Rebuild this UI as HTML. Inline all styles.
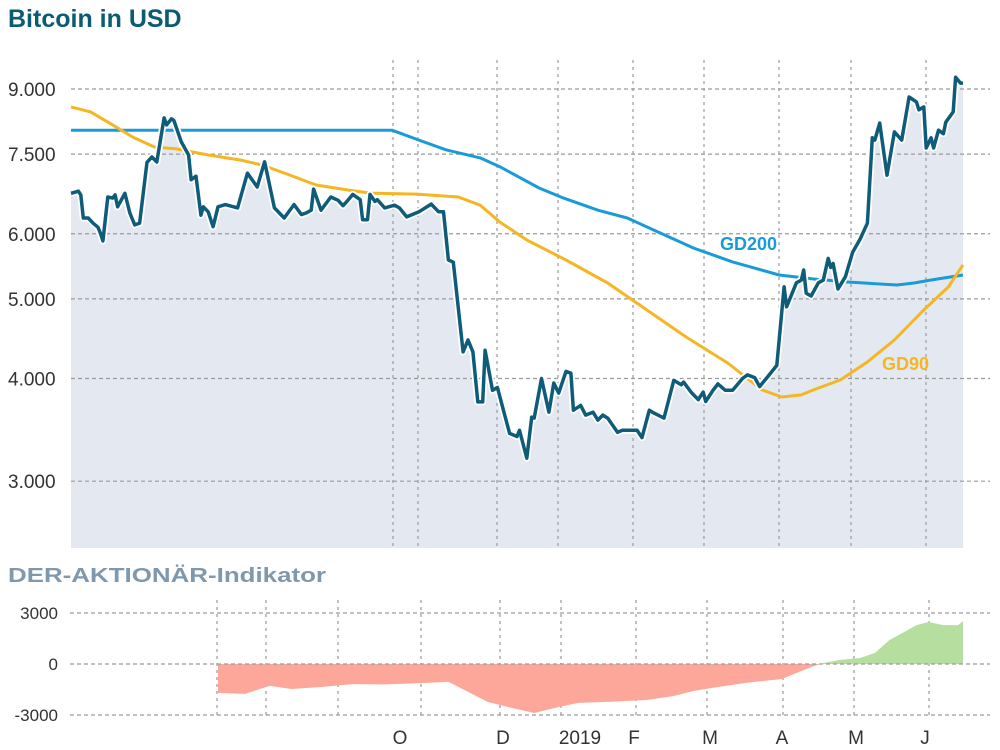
<!DOCTYPE html>
<html><head><meta charset="utf-8"><style>
html,body{margin:0;padding:0;background:#fff;}
svg{display:block;font-family:"Liberation Sans",sans-serif;}
</style></head><body>
<svg id="c" width="1000" height="750" viewBox="0 0 1000 750">
<text x="8" y="27" font-size="25" font-weight="bold" fill="#0b5b73">Bitcoin in USD</text>
<text x="8" y="582" font-size="20" font-weight="bold" fill="#7e98ad" textLength="318" lengthAdjust="spacingAndGlyphs">DER-AKTIONÄR-Indikator</text>
<g id="main"></g>
<g id="ind"></g>
</svg>
<script>
const priceDays=[0,3,4,5,7,9,11,12,13,15,17,18,19,22,24,26,28,31,33,35,38,39,41,42,45,48,49,51,53,54,56,58,60,63,68,72,76,79,83,87,91,94,96,98,99,102,106,109,111,113,115,118,119,121,122,124,125,128,132,134,137,142,147,150,152,154,156,160,162,164,166,168,169,172,174,179,182,183,186,188,189,192,195,197,199,202,204,205,208,210,213,215,217,219,223,225,228,231,233,236,238,242,246,249,250,253,256,258,259,262,264,267,270,274,276,279,281,284,288,291,292,296,298,299,300,302,305,307,309,310,311,313,316,319,322,325,327,328,330,333,336,339,342,345,346,348,349,351,352,354,356,357,360,361,363,364];
const priceValues=[6720,6760,6690,6270,6270,6180,6110,6010,5880,6650,6630,6690,6470,6720,6360,6150,6180,7330,7440,7335,8300,8140,8280,8240,7760,7480,6980,7050,6320,6470,6380,6120,6470,6510,6450,7110,6840,7340,6450,6270,6510,6330,6360,6410,6800,6410,6650,6590,6490,6590,6700,6600,6240,6240,6700,6570,6600,6450,6500,6450,6290,6380,6520,6380,6380,5575,5540,4310,4455,4310,3746,3746,4330,3870,3900,3430,3400,3460,3200,3590,3580,4000,3640,3950,3840,4080,4060,3660,3710,3610,3640,3560,3610,3580,3440,3460,3460,3460,3390,3660,3630,3580,3980,3930,3960,3850,3770,3850,3750,3870,3940,3870,3870,4000,4040,4010,3910,4010,4150,5170,4890,5230,5270,5420,5080,5040,5230,5270,5600,5460,5520,5140,5320,5700,5910,6180,7850,7800,8180,7070,7980,7800,8800,8680,8490,8560,7630,7850,7630,8020,7940,8200,8440,9300,9150,9150];
const gd200Days=[0,131,142,153,167,175,191,201,215,227,238,254,270,289,303,317,337,344,351,364];
const gd200Values=[8020,8020,7800,7590,7420,7240,6820,6630,6410,6270,6060,5765,5545,5345,5286,5242,5198,5227,5271,5345];
const gd90Days=[0,8,17,25,34,43,56,69,78,87,100,113,122,141,158,167,175,186,202,219,235,251,268,282,290,298,303,314,325,336,348,358,364];
const gd90Values=[8560,8440,8140,7870,7650,7610,7480,7376,7275,7113,6878,6782,6724,6705,6650,6500,6200,5896,5575,5227,4846,4493,4178,3874,3798,3820,3874,3984,4189,4455,4846,5168,5498];
const indDays=[60,71,81,90,102,115,128,144,154,170,180,189,199,207,220,235,246,254,264,275,290,296,302,307,314,322,328,334,340,345,350,356,362,364];
const indValues=[-1700,-1760,-1290,-1470,-1350,-1180,-1200,-1120,-1040,-2230,-2590,-2880,-2530,-2290,-2220,-2120,-1880,-1590,-1350,-1120,-880,-530,-180,60,240,350,650,1410,1880,2290,2470,2290,2290,2530];
const yTicks=[9000,7500,6000,5000,4000,3000];
const yTickLabels=["9.000","7.500","6.000","5.000","4.000","3.000"];
const indTicks=[3000,0,-3000];
const indTickLabels=["3000","0","-3000"];
const monthLabels=["O","D","2019","F","M","A","M","J"];

const NS="http://www.w3.org/2000/svg";
function mk(tag,attrs,parent){const e=document.createElementNS(NS,tag);for(const k in attrs)e.setAttribute(k,attrs[k]);parent.appendChild(e);return e;}
const X0=71,X1=963,D1=364;
const xs=d=>X0+(X1-X0)*d/D1;
const ys=v=>89+357*Math.log(9000/v);
const yi=v=>664-v*17/1000;
const main=document.getElementById('main'),ind=document.getElementById('ind');
const ptsStr=(ds,vs,f)=>ds.map((d,i)=>xs(d).toFixed(1)+','+f(vs[i]).toFixed(1)).join(' ');

let area=mk('polygon',{points:xs(0)+',548 '+ptsStr(priceDays,priceValues,ys)+' '+xs(D1)+',548',fill:'#e4e9f1'},main);


const topGrid=[393,418,497,558,633,704,779,851,926];
yTicks.forEach((t,i)=>{
  const l=mk('line',{x1:71,x2:990,y1:ys(t),y2:ys(t),stroke:'#9a9a9a','stroke-width':1.2,'stroke-dasharray':'4,3'},main);
  
  
  const tx=mk('text',{x:8,y:ys(t)+7,'font-size':19,fill:'#333'},main);tx.textContent=yTickLabels[i];
  
  
});
topGrid.forEach(x=>{
  const l=mk('line',{x1:x,x2:x,y1:60,y2:548,stroke:'#9a9a9a','stroke-width':1.2,'stroke-dasharray':'3,4'},main);
  
  
});
let g2=mk('polyline',{points:ptsStr(gd200Days,gd200Values,ys),fill:'none',stroke:'#1a9bd7','stroke-width':3,'stroke-linejoin':'round'},main);


let g9=mk('polyline',{points:ptsStr(gd90Days,gd90Values,ys),fill:'none',stroke:'#f4b623','stroke-width':3,'stroke-linejoin':'round'},main);


let halo=mk('polyline',{points:ptsStr(priceDays,priceValues,ys),fill:'none',stroke:'#fff','stroke-width':7,'stroke-linejoin':'round'},main);


let pl=mk('polyline',{points:ptsStr(priceDays,priceValues,ys),fill:'none',stroke:'#0e5c79','stroke-width':3.5,'stroke-linejoin':'round'},main);


let t1=mk('text',{x:720,y:250,'font-size':18,'font-weight':'bold',fill:'#1a9bd7'},main);t1.textContent='GD200';


let t2=mk('text',{x:882,y:370,'font-size':18,'font-weight':'bold',fill:'#f4b623'},main);t2.textContent='GD90';



const botGrid=[217,266,338,421,500,561,636,707,783,854,929];
botGrid.forEach(x=>{
  const l=mk('line',{x1:x,x2:x,y1:600,y2:716,stroke:'#9a9a9a','stroke-width':1.2,'stroke-dasharray':'3,4'},ind);
  
  
});
let neg=[],pos=[];
for(let i=0;i<indDays.length;i++){
  const v=indValues[i];
  if(i>0&&(indValues[i-1]<0)!==(v<0)){const a=indValues[i-1],t=a/(a-v);const d=indDays[i-1]+t*(indDays[i]-indDays[i-1]);neg.push([d,0]);pos.push([d,0]);}
  if(v<=0)neg.push([indDays[i],v]);else pos.push([indDays[i],v]);
}
const polyStr=arr=>xs(arr[0][0]).toFixed(1)+','+yi(0)+' '+arr.map(p=>xs(p[0]).toFixed(1)+','+yi(p[1]).toFixed(1)).join(' ')+' '+xs(arr[arr.length-1][0]).toFixed(1)+','+yi(0);
let na=mk('polygon',{points:polyStr(neg),fill:'#fca799'},ind);


let pa=mk('polygon',{points:polyStr(pos),fill:'#b6df9f'},ind);


indTicks.forEach((t,i)=>{
  const l=mk('line',{x1:70,x2:990,y1:yi(t),y2:yi(t),stroke:'#9a9a9a','stroke-width':1.2,'stroke-dasharray':'4,3'},ind);
  
  
  const tx=mk('text',{x:58,y:yi(t)+6,'font-size':17,fill:'#333','text-anchor':'end'},ind);tx.textContent=indTickLabels[i];
  
  
});
const monthX=[400,503,580,634,710,782,856,925];
monthLabels.forEach((m,i)=>{
  const tx=mk('text',{x:monthX[i],y:744,'font-size':19,fill:'#333','text-anchor':'middle'},ind);tx.textContent=m;
  
  
});
</script>
</body></html>
